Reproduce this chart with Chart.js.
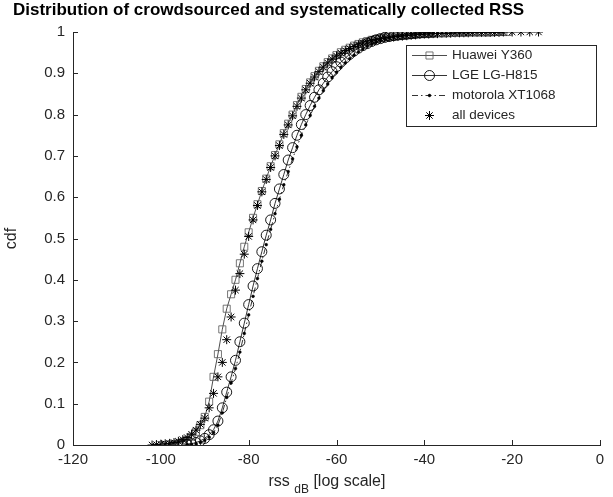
<!DOCTYPE html>
<html><head><meta charset="utf-8">
<script src="https://cdn.jsdelivr.net/npm/chart.js@4/dist/chart.umd.min.js"></script>
<style>html,body{margin:0;padding:0;background:#fff}canvas{display:block}</style>
</head><body>
<canvas id="c" width="613" height="497"></canvas>
<script>
// ---- data ----
const chartTitle = 'Distribution of crowdsourced and systematically collected RSS';
const seriesNames = ['Huawei Y360', 'LGE LG-H815', 'motorola XT1068', 'all devices'];
const xTicks = [-120, -100, -80, -60, -40, -20, 0];
const yTicks = [0, 0.1, 0.2, 0.3, 0.4, 0.5, 0.6, 0.7, 0.8, 0.9, 1];

const huaweiRss = [-99,-98,-97,-96,-95,-94,-93,-92,-91,-90,-89,-88,-87,-86,-85,-84,-83,-82,-81,-80,
  -79,-78,-77,-76,-75,-74,-73,-72,-71,-70,-69,-68,-67,-66,-65,-64,-63,-62,-61,-60,
  -59,-58,-57,-56,-55,-54,-53,-52,-51,-50,-49,-48,-47,-46,-45,-44,-43,-42,-41,-40,
  -39,-38,-37,-36,-35,-34,-33,-32,-31,-30,-29,-28,-27,-26,-25,-24,-23,-22,-21];
const huaweiCdf = [0.000,0.001,0.002,0.004,0.007,0.012,0.020,0.032,0.048,0.068,0.105,0.165,0.220,0.280,0.330,0.365,0.400,0.440,0.480,0.515,
  0.550,0.583,0.615,0.645,0.675,0.702,0.728,0.755,0.778,0.800,0.823,0.843,0.862,0.878,0.893,0.906,0.917,0.927,0.936,0.944,
  0.951,0.957,0.962,0.967,0.971,0.975,0.978,0.981,0.983,0.985,0.987,0.988,0.989,0.990,0.991,0.992,0.993,0.994,0.995,0.995,
  0.996,0.996,0.997,0.997,0.997,0.998,0.998,0.998,0.998,0.999,0.999,0.999,0.999,0.999,0.999,1.000,1.000,1.000,1.000];

const lgeRss = [-95,-94,-93,-92,-91,-90,-89,-88,-87,-86,-85,-84,-83,-82,-81,-80,
  -79,-78,-77,-76,-75,-74,-73,-72,-71,-70,-69,-68,-67,-66,-65,-64,-63,-62,-61,-60,
  -59,-58,-57,-56,-55,-54,-53,-52,-51,-50,-49,-48,-47,-46,-45,-44,-43,-42,-41,-40,-39,-38];
const lgeCdf = [0.000,0.001,0.003,0.006,0.010,0.016,0.025,0.037,0.058,0.090,0.128,0.165,0.205,0.250,0.295,0.340,
  0.385,0.427,0.468,0.508,0.545,0.585,0.620,0.655,0.690,0.720,0.750,0.776,0.800,0.822,0.842,0.860,0.876,0.891,0.904,0.916,
  0.927,0.937,0.946,0.954,0.961,0.967,0.972,0.977,0.981,0.984,0.987,0.989,0.991,0.993,0.994,0.995,0.996,0.997,0.998,0.999,0.999,1.000];

const motoRss = [-94,-93,-92,-91,-90,-89,-88,-87,-86,-85,-84,-83,-82,-81,-80,
  -79,-78,-77,-76,-75,-74,-73,-72,-71,-70,-69,-68,-67,-66,-65,-64,-63,-62,-61,-60,
  -59,-58,-57,-56,-55,-54,-53,-52,-51,-50,-49,-48,-47,-46,-45,-44,-43,-42,-41,-40,-39,-38];
const motoCdf = [0.000,0.001,0.003,0.006,0.011,0.019,0.030,0.048,0.078,0.115,0.150,0.185,0.225,0.270,0.315,
  0.360,0.403,0.445,0.485,0.522,0.560,0.595,0.630,0.662,0.693,0.722,0.750,0.775,0.798,0.820,0.840,0.858,0.874,0.889,0.902,
  0.914,0.925,0.935,0.944,0.952,0.959,0.965,0.970,0.975,0.979,0.983,0.986,0.988,0.990,0.992,0.994,0.995,0.996,0.997,0.998,0.999,1.000];

const allRss = [-102,-101,-100,-99,-98,-97,-96,-95,-94,-93,-92,-91,-90,-89,-88,-87,-86,-85,-84,-83,-82,-81,-80,
  -79,-78,-77,-76,-75,-74,-73,-72,-71,-70,-69,-68,-67,-66,-65,-64,-63,-62,-61,-60,
  -59,-58,-57,-56,-55,-54,-53,-52,-51,-50,-49,-48,-47,-46,-45,-44,-43,-42,-41,-40,
  -39,-38,-37,-36,-35,-34,-33,-32,-31,-30,-29,-28,-27,-26,-25,-24,-23,-22,-20,-18,-16,-14];
const allCdf = [0.000,0.001,0.002,0.003,0.004,0.006,0.009,0.013,0.018,0.026,0.036,0.050,0.065,0.090,0.125,0.165,0.200,0.255,0.310,0.375,0.415,0.462,0.505,
  0.545,0.580,0.613,0.643,0.672,0.700,0.725,0.752,0.775,0.797,0.820,0.840,0.860,0.876,0.891,0.904,0.915,0.925,0.934,0.942,
  0.949,0.955,0.960,0.965,0.969,0.973,0.976,0.979,0.982,0.984,0.986,0.987,0.988,0.989,0.990,0.991,0.992,0.993,0.994,0.995,
  0.995,0.996,0.996,0.997,0.997,0.997,0.998,0.998,0.998,0.998,0.999,0.999,0.999,0.999,0.999,0.999,0.999,1.000,1.000,1.000,1.000,1.000];

// ---- build ----
const pts = (xs, ys) => xs.map((x, i) => ({x: x, y: ys[i]}));
const FONT = '"Liberation Sans", Arial, Helvetica, sans-serif';
const AX = '#262626';

const decorations = {
  id: 'decorations',
  afterDraw(chart) {
    const ctx = chart.ctx, xs = chart.scales.x, ys = chart.scales.y, a = chart.chartArea;
    ctx.save();
    // inward tick marks
    ctx.strokeStyle = AX; ctx.lineWidth = 1;
    ctx.beginPath();
    xTicks.forEach(v => { const px = Math.round(xs.getPixelForValue(v)) + 0.5; ctx.moveTo(px, a.bottom); ctx.lineTo(px, a.bottom - 5); });
    yTicks.forEach(v => { const py = Math.round(ys.getPixelForValue(v)) + 0.5; ctx.moveTo(a.left, py); ctx.lineTo(a.left + 5, py); });
    ctx.stroke();
    // title
    ctx.fillStyle = '#000';
    ctx.font = 'bold 17px ' + FONT;
    ctx.textBaseline = 'middle'; ctx.textAlign = 'left';
    ctx.fillText(chartTitle, 13, 10);
    // y label
    ctx.fillStyle = AX;
    ctx.font = '16px ' + FONT;
    ctx.save(); ctx.translate(12, (a.top + a.bottom) / 2); ctx.rotate(-Math.PI / 2);
    ctx.textAlign = 'center'; ctx.fillText('cdf', 0, 0); ctx.restore();
    // x label with subscript
    const p1 = 'rss ', p2 = 'dB', p3 = ' [log scale]';
    ctx.font = '16px ' + FONT; const w1 = ctx.measureText(p1).width, w3 = ctx.measureText(p3).width;
    ctx.font = '12px ' + FONT; const w2 = ctx.measureText(p2).width;
    let sx = 327 - (w1 + w2 + w3) / 2; const by = 482;
    ctx.textAlign = 'left';
    ctx.font = '16px ' + FONT; ctx.fillText(p1, sx, by); sx += w1;
    ctx.font = '12px ' + FONT; ctx.fillText(p2, sx, by + 8); sx += w2;
    ctx.font = '16px ' + FONT; ctx.fillText(p3, sx, by);
    // legend
    const L = 406.5, T = 45.5, W = 190, H = 81;
    ctx.fillStyle = '#fff'; ctx.fillRect(L, T, W, H);
    ctx.strokeStyle = AX; ctx.lineWidth = 1; ctx.strokeRect(L, T, W, H);
    const lx0 = 412, lx1 = 447, mx = 429.5, tx = 452;
    seriesNames.forEach((name, i) => {
      const yy = 55.5 + i * 20;
      const ds = chart.data.datasets[i];
      if (ds.showLine !== false) {
        ctx.save(); ctx.strokeStyle = '#000'; ctx.lineWidth = ds.borderWidth;
        ctx.setLineDash(ds.borderDash || []);
        ctx.beginPath(); ctx.moveTo(lx0, yy); ctx.lineTo(lx1, yy); ctx.stroke(); ctx.restore();
      }
      ctx.save();
      ctx.strokeStyle = ds.pointBorderColor; ctx.fillStyle = ds.pointBackgroundColor; ctx.lineWidth = ds.pointBorderWidth;
      ctx.setLineDash([]);
      Chart.helpers.drawPoint(ctx, { pointStyle: ds.pointStyle, radius: ds.pointRadius, borderWidth: ds.pointBorderWidth, rotation: 0 }, mx, yy);
      ctx.restore();
      ctx.fillStyle = AX; ctx.font = '13.5px ' + FONT; ctx.textBaseline = 'middle'; ctx.textAlign = 'left';
      ctx.fillText(name, tx, yy);
    });
    ctx.restore();
  }
};

new Chart(document.getElementById('c'), {
  type: 'scatter',
  data: {
    datasets: [
      { label: seriesNames[0], data: pts(huaweiRss, huaweiCdf), showLine: true, borderColor: '#000', borderWidth: 0.7,
        pointStyle: 'rect', pointRadius: 5, pointBorderWidth: 0.8, pointBorderColor: '#555', pointBackgroundColor: 'rgba(0,0,0,0)', order: 4 },
      { label: seriesNames[1], data: pts(lgeRss, lgeCdf), showLine: true, borderColor: '#000', borderWidth: 0.8,
        pointStyle: 'circle', pointRadius: 5, pointBorderWidth: 0.9, pointBorderColor: '#000', pointBackgroundColor: 'rgba(0,0,0,0)', order: 3 },
      { label: seriesNames[2], data: pts(motoRss, motoCdf), showLine: true, borderColor: '#000', borderWidth: 0.8, borderDash: [6, 3, 1.5, 3],
        pointStyle: 'circle', pointRadius: 1.4, pointBorderWidth: 0.5, pointBorderColor: '#000', pointBackgroundColor: '#000', order: 2 },
      { label: seriesNames[3], data: pts(allRss, allCdf), showLine: false, borderColor: '#000', borderWidth: 1,
        pointStyle: 'star', pointRadius: 4.5, pointBorderWidth: 1, pointBorderColor: '#000', pointBackgroundColor: '#000', order: 1 }
    ]
  },
  options: {
    responsive: false, animation: false, devicePixelRatio: 1,
    layout: { padding: { top: 32, right: 13, left: 0, bottom: 0 } },
    plugins: { legend: { display: false }, tooltip: { enabled: false }, title: { display: false } },
    elements: { line: { tension: 0, fill: false } },
    scales: {
      x: {
        type: 'linear', min: -120, max: 0,
        afterBuildTicks: s => { s.ticks = xTicks.map(v => ({value: v})); },
        afterFit: s => { s.height = 52; },
        grid: { display: true, drawOnChartArea: false, drawTicks: false },
        border: { display: true, color: AX, width: 1 },
        ticks: { color: AX, padding: 6, maxRotation: 0, font: { family: FONT, size: 15 }, callback: v => String(v) }
      },
      y: {
        type: 'linear', min: 0, max: 1,
        afterBuildTicks: s => { s.ticks = yTicks.map(v => ({value: v})); },
        afterFit: s => { s.width = 73; },
        grid: { display: true, drawOnChartArea: false, drawTicks: false },
        border: { display: true, color: AX, width: 1 },
        ticks: { color: AX, padding: 8, font: { family: FONT, size: 15 }, callback: v => String(v) }
      }
    }
  },
  plugins: [decorations]
});
</script>
</body></html>
